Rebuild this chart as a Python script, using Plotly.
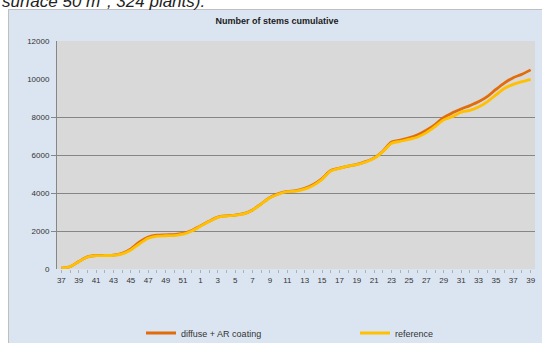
import plotly.graph_objects as go

# Week numbers: 37..52 of the first year, then 1..39 of the next
weeks = list(range(37, 53)) + list(range(1, 40))

# Cumulative number of stems per treatment
diffuse_ar = [50, 120, 390, 640, 710, 720, 730, 820, 1060, 1430,
              1680, 1780, 1800, 1810, 1870, 2030, 2270, 2510, 2730, 2800,
              2840, 2910, 3110, 3430, 3760, 3970, 4080, 4120, 4240, 4450,
              4760, 5180, 5310, 5420, 5510, 5650, 5850, 6200, 6680, 6780,
              6900, 7060, 7300, 7600, 7980, 8220, 8420, 8600, 8800, 9070,
              9450, 9800, 10070, 10250, 10480]
reference = [50, 120, 380, 630, 700, 710, 720, 800, 1000, 1330,
             1620, 1730, 1750, 1760, 1830, 2000, 2250, 2500, 2720, 2790,
             2830, 2900, 3100, 3420, 3750, 3950, 4070, 4100, 4200, 4400,
             4720, 5160, 5300, 5420, 5490, 5630, 5830, 6180, 6620, 6720,
             6820, 6950, 7180, 7500, 7850, 8020, 8250, 8350, 8530, 8800,
             9160, 9510, 9720, 9860, 9980]

y_labels = [0, 2000, 4000, 6000, 8000, 10000, 12000]
y_grid = [2000, 4000, 6000, 8000]

idx = list(range(len(weeks)))
tick_text = [str(w) if i % 2 == 0 else "" for i, w in enumerate(weeks)]

FONT = "Liberation Sans"
BOX = "#dbe5f1"

# pixel -> paper coordinates for the fixed plot area (57..535 x 41..269)
px = lambda v: (v - 57) / 478
py = lambda v: (269 - v) / 228

fig = go.Figure()
fig.add_trace(go.Scatter(
    x=idx, y=diffuse_ar, name="diffuse + AR coating", mode="lines",
    line=dict(color="#e26b0a", width=2.8, shape="spline", smoothing=0.8),
    legend="legend",
))
fig.add_trace(go.Scatter(
    x=idx, y=reference, name="reference", mode="lines",
    line=dict(color="#ffc000", width=2.8, shape="spline", smoothing=0.8),
    legend="legend2",
))
# carrier for the labelled value axis
fig.add_trace(go.Scatter(x=[None], y=[None], yaxis="y2", showlegend=False,
                         hoverinfo="skip", mode="lines"))

legend_common = dict(
    orientation="h", yanchor="middle", y=py(333), xanchor="left",
    bgcolor="rgba(0,0,0,0)", borderwidth=0,
    font=dict(family=FONT, size=9, color="#333333"),
)

fig.update_layout(
    width=542, height=343,
    margin=dict(l=57, r=7, t=41, b=74, autoexpand=False),
    paper_bgcolor=BOX,
    plot_bgcolor="#d9d9d9",
    font=dict(family=FONT, size=8, color="#333333"),
    title=dict(text="<b>Number of stems cumulative</b>",
               x=277 / 542, xref="container", xanchor="center",
               y=1 - 21 / 343, yref="container", yanchor="middle",
               font=dict(family=FONT, size=9, color="#1a1a1a")),
    xaxis=dict(
        range=[-0.5, len(weeks) - 0.5],
        tickmode="array", tickvals=idx, ticktext=tick_text,
        ticks="outside", ticklen=3, tickcolor="#b0b0b0",
        tickangle=0, showgrid=False, zeroline=False, showline=False,
        tickfont=dict(family=FONT, size=8, color="#333333"),
    ),
    yaxis=dict(
        range=[0, 12000], tickmode="array", tickvals=y_grid,
        showticklabels=False, ticks="outside", ticklen=5,
        tickcolor="#868686", showgrid=True, gridcolor="#868686",
        gridwidth=1, zeroline=False, showline=True, linecolor="#868686",
        linewidth=1,
    ),
    yaxis2=dict(
        overlaying="y", side="left", range=[0, 12000],
        tickmode="array", tickvals=y_labels,
        ticktext=[str(v) for v in y_labels],
        ticks="outside", ticklen=5, tickcolor="rgba(0,0,0,0)",
        showgrid=False, zeroline=False, showline=False,
        tickfont=dict(family=FONT, size=8, color="#333333"),
    ),
    legend=dict(legend_common, x=px(141)),
    legend2=dict(legend_common, x=px(355)),
    showlegend=True,
)

# page margin around the chart box and its border
fig.add_shape(type="rect", xref="paper", yref="paper",
              x0=px(0), x1=px(542), y0=py(0), y1=py(9),
              fillcolor="white", line=dict(width=0), layer="above")
fig.add_shape(type="rect", xref="paper", yref="paper",
              x0=px(0), x1=px(8), y0=py(343), y1=py(0),
              fillcolor="white", line=dict(width=0), layer="above")
fig.add_shape(type="rect", xref="paper", yref="paper",
              x0=px(8.5), x1=px(545), y0=py(346), y1=py(9.5),
              fillcolor="rgba(0,0,0,0)", line=dict(color="#bfbfbf", width=1),
              layer="above")

# caption line of the surrounding text
fig.add_annotation(text="<i>surface 50 m<sup>2</sup>, 324 plants).</i>",
                   xref="paper", yref="paper", x=px(0), y=py(0),
                   xanchor="left", yanchor="middle", showarrow=False,
                   font=dict(family=FONT, size=17, color="#222222"))

fig.write_html("out.html")
